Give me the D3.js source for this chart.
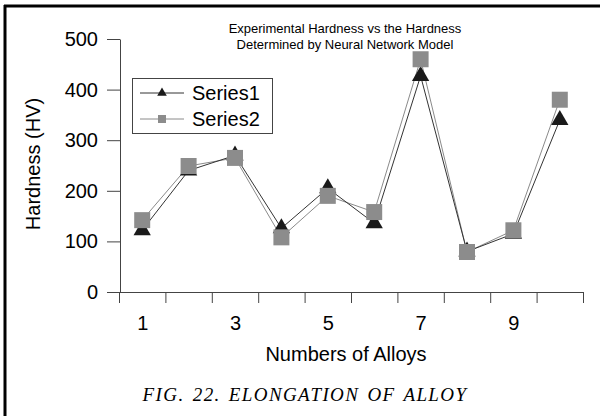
<!DOCTYPE html>
<html><head><meta charset="utf-8">
<script src="https://cdn.jsdelivr.net/npm/d3@7"></script>
<style>body{margin:0;background:#fff}svg{display:block}</style>
</head><body><svg id="c" width="600" height="416"></svg>
<script>
const categories = [1,2,3,4,5,6,7,8,9,10];
const series1 = [122,240,270,126,205,136,427,80,115,340];
const series2 = [142,249,265,108,190,158,460,79,122,380];
const yTicks = [0,100,200,300,400,500];
const xLabels = [1,3,5,7,9];
const seriesNames = ["Series1","Series2"];
const titleLines = ["Experimental Hardness vs the Hardness","Determined by Neural Network Model"];

const svg = d3.select("#c");
const font = "Liberation Sans, Arial, sans-serif";
// frame
svg.append("line").attr("x1",5).attr("x2",5).attr("y1",5).attr("y2",416).attr("stroke","#000").attr("stroke-width",3);
svg.append("line").attr("x1",4).attr("x2",600).attr("y1",6).attr("y2",6).attr("stroke","#000").attr("stroke-width",3);

const x = d3.scaleBand().domain(categories).range([119,583]).padding(0);
const xEdge = d3.scaleLinear().domain([0.5,10.5]).range([119,583]);
const y = d3.scaleLinear().domain([0,500]).range([292,39]);

const yAx = svg.append("g").attr("transform","translate(120,0)")
  .call(d3.axisLeft(y).tickValues(yTicks).tickSize(13).tickSizeOuter(0).tickPadding(9));
yAx.selectAll("text").attr("font-family",font).attr("font-size",20).attr("fill","#000");
yAx.selectAll("line,path").attr("stroke","#444");

const xAx = svg.append("g").attr("transform","translate(0,292)")
  .call(d3.axisBottom(xEdge).tickValues(d3.range(0.5,11,1)).tickSize(11).tickSizeOuter(0).tickFormat(""));
xAx.selectAll("line,path").attr("stroke","#444");
const xLab = svg.append("g").attr("transform","translate(0,292)")
  .call(d3.axisBottom(xEdge).tickValues(xLabels).tickSize(0).tickPadding(24));
xLab.select("path").remove();
xLab.selectAll("text").attr("font-family",font).attr("font-size",20).attr("fill","#000");

const cx = d => x(d) + x.bandwidth()/2;
const line = d3.line().x(d=>cx(d[0])).y(d=>y(d[1]));
const d1 = categories.map((c,i)=>[c,series1[i]]);
const d2 = categories.map((c,i)=>[c,series2[i]]);
svg.append("path").datum(d2).attr("d",line).attr("fill","none").attr("stroke","#8a8a8a").attr("stroke-width",1);
svg.append("path").datum(d1).attr("d",line).attr("fill","none").attr("stroke","#333").attr("stroke-width",1);

const tri = d3.symbol().type(d3.symbolTriangle).size(130);
const sq = d3.symbol().type(d3.symbolSquare).size(256);
svg.selectAll(".t").data(d1).join("path").attr("class","t").attr("d",tri)
  .attr("transform",d=>`translate(${cx(d[0])},${y(d[1])})`).attr("fill","#1a1a1a");
svg.selectAll(".s").data(d2).join("path").attr("class","s").attr("d",sq)
  .attr("transform",d=>`translate(${cx(d[0])},${y(d[1])})`).attr("fill","#8c8c8c");

// title
svg.append("text").attr("x",345).attr("font-family",font).attr("font-size",13).attr("text-anchor","middle")
  .selectAll("tspan").data(titleLines).join("tspan").attr("x",345).attr("y",(d,i)=>33+i*16).text(d=>d);

// legend
const lg = svg.append("g");
lg.append("rect").attr("x",132.5).attr("y",78.5).attr("width",140).attr("height",55).attr("fill","#fff").attr("stroke","#444");
const ly = [93,119];
lg.append("line").attr("x1",140).attr("x2",184).attr("y1",ly[0]).attr("y2",ly[0]).attr("stroke","#333");
lg.append("line").attr("x1",140).attr("x2",184).attr("y1",ly[1]).attr("y2",ly[1]).attr("stroke","#8a8a8a");
lg.append("path").attr("d",d3.symbol().type(d3.symbolTriangle).size(40)).attr("transform",`translate(162,${ly[0]})`).attr("fill","#1a1a1a");
lg.append("path").attr("d",d3.symbol().type(d3.symbolSquare).size(64)).attr("transform",`translate(162,${ly[1]})`).attr("fill","#8c8c8c");
lg.selectAll(".lt").data(seriesNames).join("text").attr("x",192).attr("y",(d,i)=>ly[i]+7)
  .attr("font-family",font).attr("font-size",20).text(d=>d);

// axis titles
svg.append("text").attr("transform","translate(40,164) rotate(-90)").attr("text-anchor","middle")
  .attr("font-family",font).attr("font-size",20).text("Hardness (HV)");
svg.append("text").attr("x",346).attr("y",361).attr("text-anchor","middle")
  .attr("font-family",font).attr("font-size",20).text("Numbers of Alloys");
svg.append("text").attr("x",305).attr("y",401).attr("text-anchor","middle")
  .attr("font-family","Liberation Serif, Times New Roman, serif").attr("font-style","italic").attr("font-size",19)
  .attr("letter-spacing",1.4).attr("word-spacing",2).text("FIG. 22. ELONGATION OF ALLOY");
</script></body></html>
